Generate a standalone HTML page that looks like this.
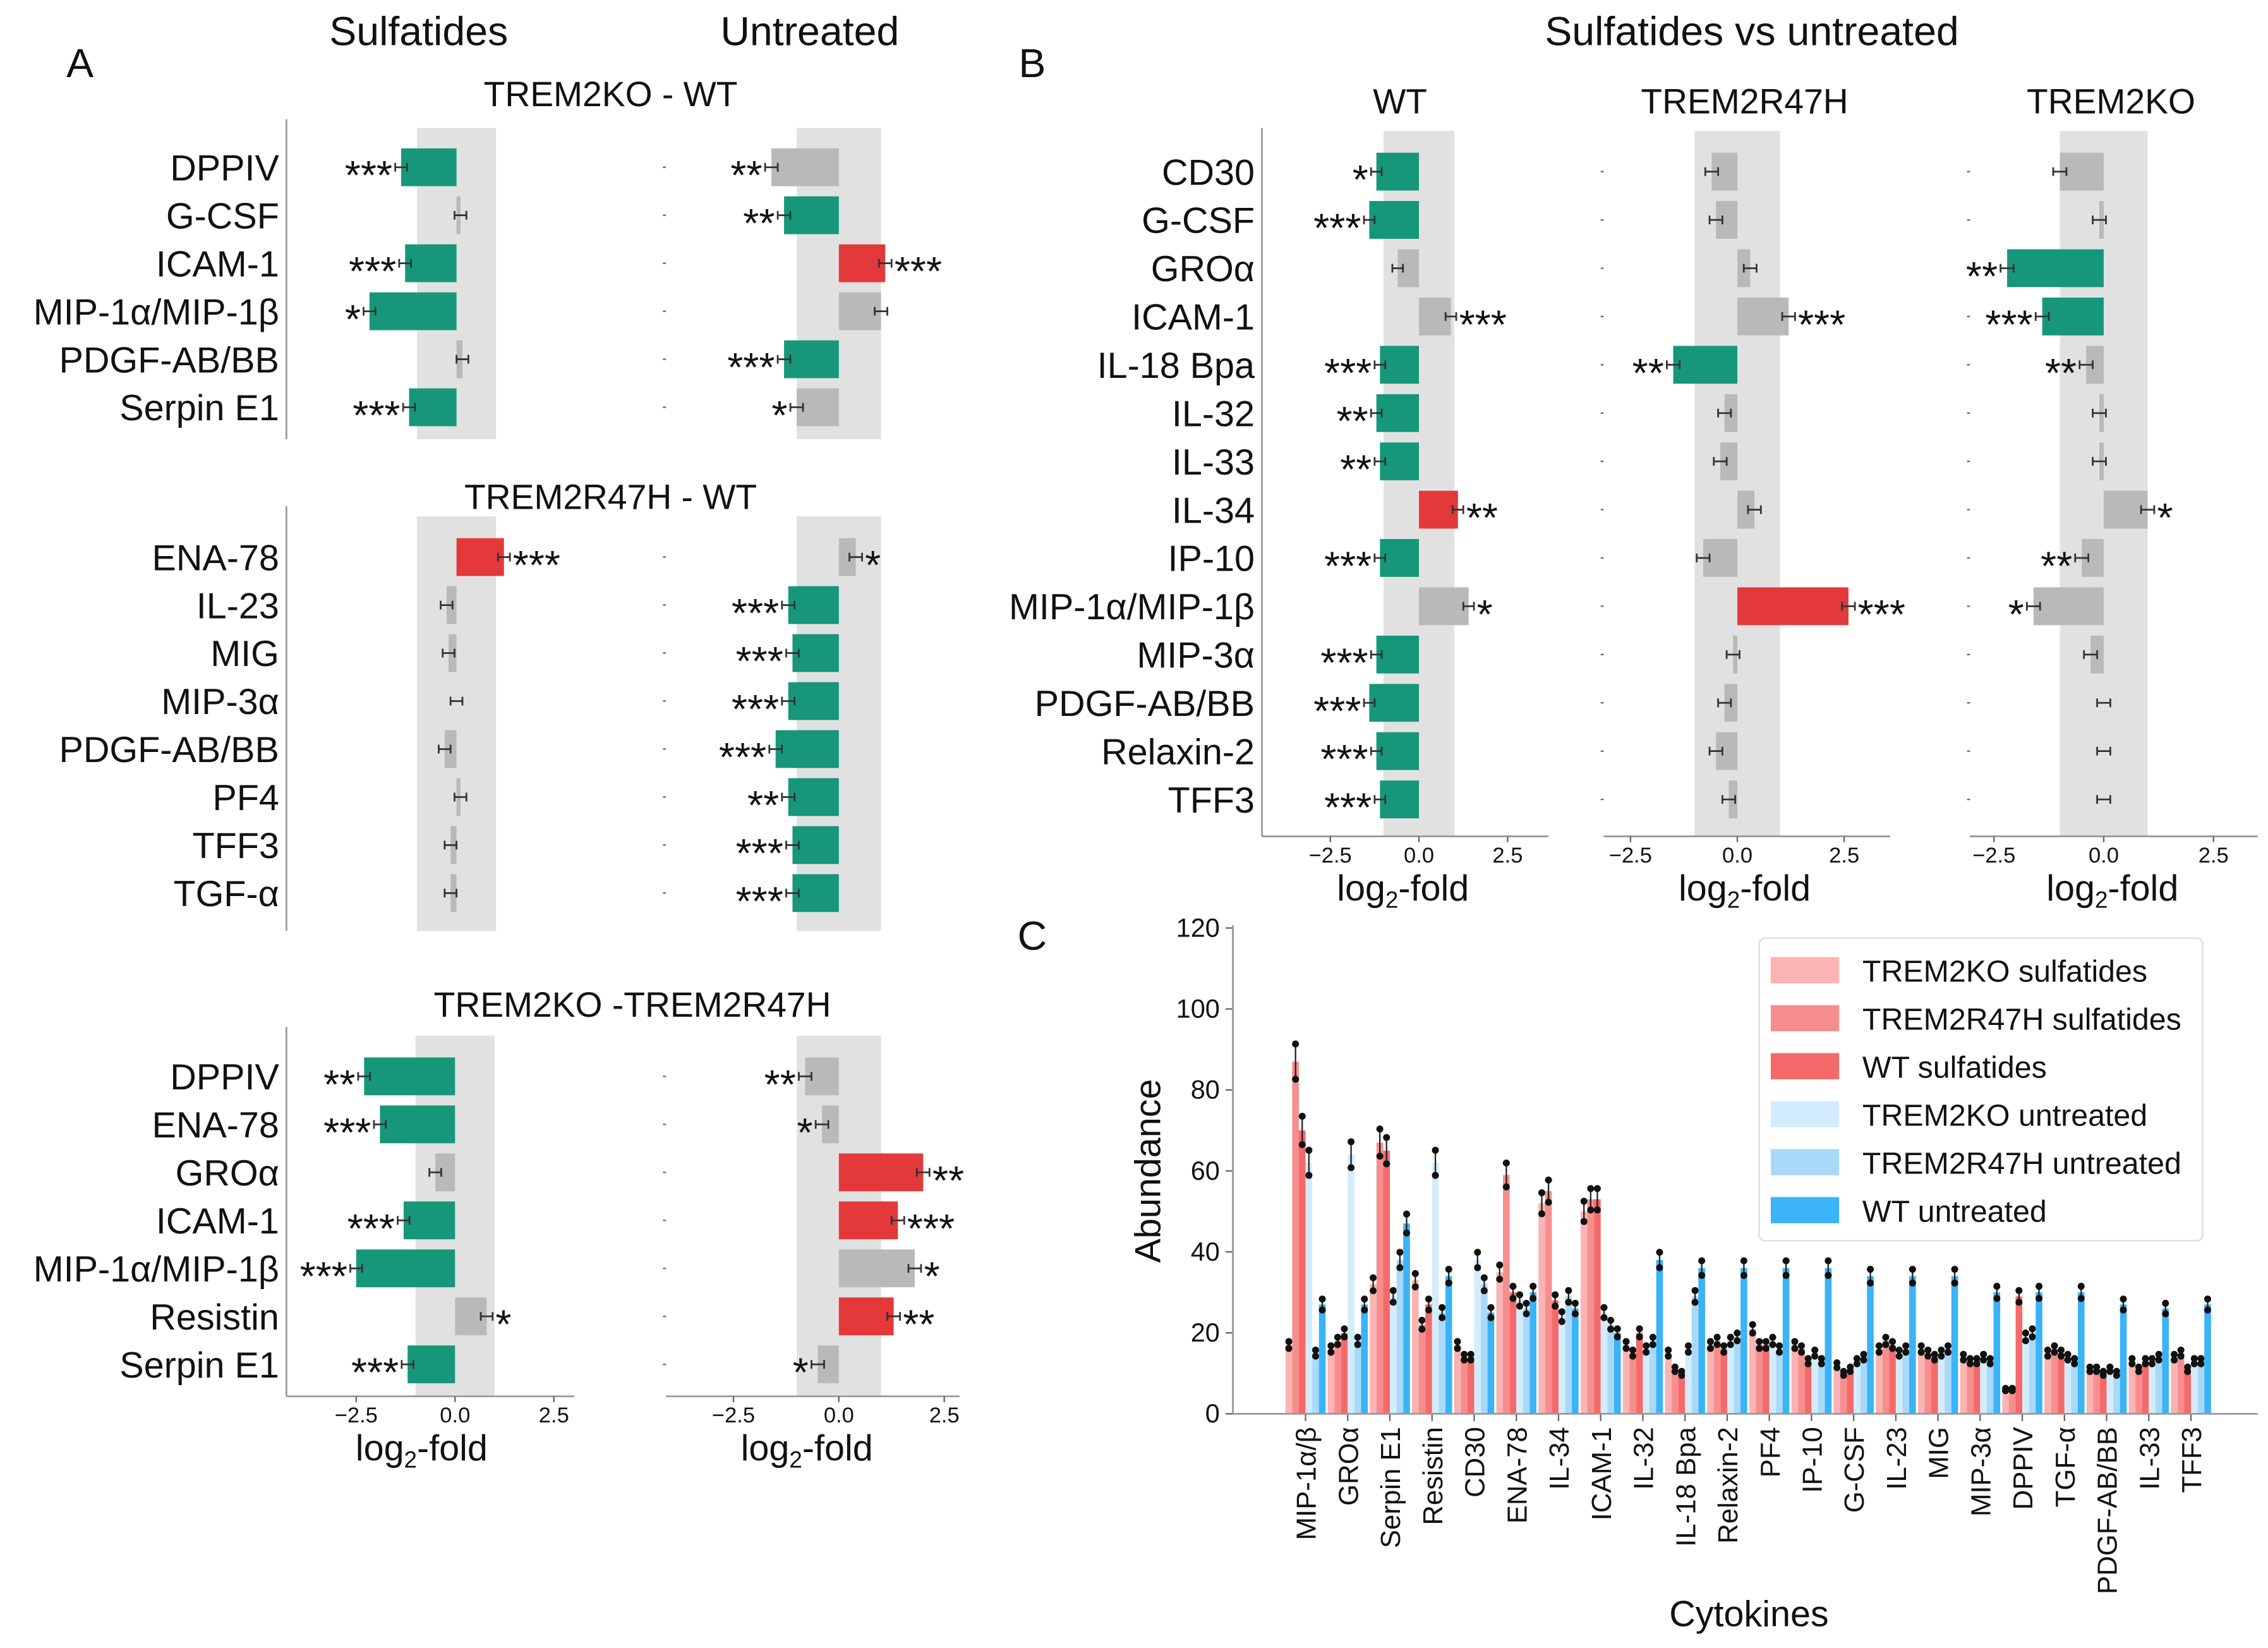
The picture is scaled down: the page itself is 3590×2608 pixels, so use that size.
<!DOCTYPE html>
<html><head><meta charset="utf-8"><style>
html,body{margin:0;padding:0;background:#fff;}
svg{display:block;font-family:"Liberation Sans","DejaVu Sans",sans-serif;}
</style></head><body>
<svg id="fig" xmlns="http://www.w3.org/2000/svg" width="3590" height="2608" viewBox="0 0 1560 1133" preserveAspectRatio="none">
<g id="root"></g>
</svg>
<script>
// ---------- Panel A data ----------
const a1Labels = ["DPPIV","G-CSF","ICAM-1","MIP-1α/MIP-1β","PDGF-AB/BB","Serpin E1"];
const a1Sulf = [-1.4,0.1,-1.3,-2.2,0.15,-1.2];
const a1SulfCol = ["g","n","g","g","n","g"];
const a1SulfStars = ["***","","***","*","","***"];
const a1Unt = [-1.6,-1.3,1.1,1.0,-1.3,-1.0];
const a1UntCol = ["n","g","r","n","g","n"];
const a1UntStars = ["**","**","***","","***","*"];

const a2Labels = ["ENA-78","IL-23","MIG","MIP-3α","PDGF-AB/BB","PF4","TFF3","TGF-α"];
const a2Sulf = [1.2,-0.25,-0.2,0.0,-0.3,0.1,-0.15,-0.15];
const a2SulfCol = ["r","n","n","n","n","n","n","n"];
const a2SulfStars = ["***","","","","","","",""];
const a2Unt = [0.4,-1.2,-1.1,-1.2,-1.5,-1.2,-1.1,-1.1];
const a2UntCol = ["n","g","g","g","g","g","g","g"];
const a2UntStars = ["*","***","***","***","***","**","***","***"];

const a3Labels = ["DPPIV","ENA-78","GROα","ICAM-1","MIP-1α/MIP-1β","Resistin","Serpin E1"];
const a3Sulf = [-2.3,-1.9,-0.5,-1.3,-2.5,0.8,-1.2];
const a3SulfCol = ["g","g","n","g","g","n","g"];
const a3SulfStars = ["**","***","","***","***","*","***"];
const a3Unt = [-0.8,-0.4,2.0,1.4,1.8,1.3,-0.5];
const a3UntCol = ["n","n","r","r","n","r","n"];
const a3UntStars = ["**","*","**","***","*","**","*"];

// ---------- Panel B data ----------
const bLabels = ["CD30","G-CSF","GROα","ICAM-1","IL-18 Bpa","IL-32","IL-33","IL-34","IP-10","MIP-1α/MIP-1β","MIP-3α","PDGF-AB/BB","Relaxin-2","TFF3"];
const bWT = [-1.2,-1.4,-0.6,0.9,-1.1,-1.2,-1.1,1.1,-1.1,1.4,-1.2,-1.4,-1.2,-1.1];
const bWTCol = ["g","g","n","n","g","g","g","r","g","n","g","g","g","g"];
const bWTStars = ["*","***","","***","***","**","**","**","***","*","***","***","***","***"];
const bR47 = [-0.6,-0.5,0.3,1.2,-1.5,-0.3,-0.4,0.4,-0.8,2.6,-0.1,-0.3,-0.5,-0.2];
const bR47Col = ["n","n","n","n","g","n","n","n","n","r","n","n","n","n"];
const bR47Stars = ["","","","***","**","","","","","***","","","",""];
const bKO = [-1.0,-0.1,-2.2,-1.4,-0.4,-0.1,-0.1,1.0,-0.5,-1.6,-0.3,0.0,0.0,0.0];
const bKOCol = ["n","n","g","g","n","n","n","n","n","n","n","n","n","n"];
const bKOStars = ["","","**","***","**","","","*","**","*","","","",""];

// ---------- Panel C data ----------
const cCats = ["MIP-1α/β","GROα","Serpin E1","Resistin","CD30","ENA-78","IL-34","ICAM-1","IL-32","IL-18 Bpa","Relaxin-2","PF4","IP-10","G-CSF","IL-23","MIG","MIP-3α","DPPIV","TGF-α","PDGF-AB/BB","IL-33","TFF3"];
const cKOsulf  = [17,16,32,33,17,35,52,50,17,15,17,21,17,12,16,16,14,6,15,11,13,14];
const cR47sulf = [87,18,67,22,14,59,55,53,15,11,18,17,16,10,18,15,13,6,16,11,11,15];
const cWTsulf  = [70,20,65,27,14,30,28,53,20,10,16,17,13,11,17,14,13,29,15,10,13,11];
const cKOunt   = [62,64,29,62,38,28,24,25,16,16,18,18,15,13,15,15,14,19,14,11,13,13];
const cR47unt  = [15,18,38,25,32,26,29,22,18,29,19,16,13,14,16,16,13,20,13,10,14,13];
const cWTunt   = [27,27,47,34,25,30,26,20,38,36,36,36,36,34,34,34,30,30,30,27,26,27];
const cTicks = [0,20,40,60,80,100,120];
const cSeriesNames = ["TREM2KO sulfatides","TREM2R47H sulfatides","WT sulfatides","TREM2KO untreated","TREM2R47H untreated","WT untreated"];

const NS = "http://www.w3.org/2000/svg";
const root = document.getElementById('root');
const COL = {g:"#16977a", r:"#e4393b", n:"#b9b9b9"};
function el(tag, attrs, name, inter){
  const e = document.createElementNS(NS, tag);
  for (const k in attrs) e.setAttribute(k, attrs[k]);
  
  
  root.appendChild(e);
  return e;
}
function txt(x,y,s,size,name,anchor,extra){
  const t = el('text', Object.assign({x:x,y:y,'font-size':size,'text-anchor':anchor||'middle',fill:'#111'}, extra||{}), name, false);
  t.textContent = s;
  return t;
}

function hplot(o){
  const sx = v => o.zero + v*o.scale;
  const yRow = i => o.y0 + i*o.dy;
  el('rect',{x:sx(-1),y:o.bandTop,width:sx(1)-sx(-1),height:o.bandBot-o.bandTop,fill:'#e1e1e1'},o.id+'-band',false);
  if (o.spine) el('line',{x1:o.spineX,y1:o.spineTop,x2:o.spineX,y2:o.spineBot,stroke:'#999','stroke-width':1.2},o.id+'-y-axis',false);
  o.vals.forEach((v,i)=>{
    const y = yRow(i);
    if (o.labels) txt(o.spineX-5,y+9,o.labels[i],25,o.id+'-label','end');
    else el('line',{x1:o.spineX-2,y1:y,x2:o.spineX,y2:y,stroke:'#666','stroke-width':1},o.id+'-tick',false);
    const x0 = sx(0), x1 = sx(v);
    el('rect',{x:Math.min(x0,x1),y:y-13,width:Math.abs(x1-x0),height:26,fill:COL[o.cols[i]]},o.id+'-bar',false);
    const err = 0.15*o.scale;
    const dir = v<0?-1:1;
    el('line',{x1:x1-err,y1:y,x2:x1+err,y2:y,stroke:'#333','stroke-width':1.2},o.id+'-errorbar',false);
    el('line',{x1:x1-err,y1:y-3,x2:x1-err,y2:y+3,stroke:'#333','stroke-width':1.2},o.id+'-errcap',false);
    el('line',{x1:x1+err,y1:y-3,x2:x1+err,y2:y+3,stroke:'#333','stroke-width':1.2},o.id+'-errcap',false);
    if (o.stars[i]) {
      const sxp = dir<0 ? Math.min(x1-err, x0) - 2 : Math.max(x1+err, x0) + 2;
      txt(sxp,y+15,o.stars[i],28,o.id+'-significance',dir<0?'end':'start');
    }
  });
  if (o.axis) {
    el('line',{x1:o.spineX,y1:o.axisY,x2:o.axisEnd,y2:o.axisY,stroke:'#999','stroke-width':1.2},o.id+'-x-axis',false);
    [-2.5,0,2.5].forEach(t=>{
      el('line',{x1:sx(t),y1:o.axisY,x2:sx(t),y2:o.axisY+4,stroke:'#666'},o.id+'-x-tick',false);
      txt(sx(t),o.axisY+18,t.toFixed(1).replace('-','−'),15,o.id+'-x-tick-label');
    });
    const t = txt(o.xtitleX,o.axisY+44,'log',25,o.id+'-x-title');
    const s = document.createElementNS(NS,'tspan'); s.setAttribute('font-size','16'); s.setAttribute('dy','5'); s.textContent='2';
    const s2 = document.createElementNS(NS,'tspan'); s2.setAttribute('dy','-5'); s2.textContent='-fold';
    t.appendChild(s); t.appendChild(s2);
  }
}

// Panel A
txt(55,53,'A',28,'panel-a-letter');
txt(288,31,'Sulfatides',28,'panel-a-column-title-sulfatides');
txt(557,31,'Untreated',28,'panel-a-column-title-untreated');
txt(420,73,'TREM2KO - WT',24,'subplot-title-trem2ko-wt');
txt(420,350,'TREM2R47H - WT',24,'subplot-title-trem2r47h-wt');
txt(435,699,'TREM2KO -TREM2R47H',24,'subplot-title-trem2ko-trem2r47h');

hplot({id:'a1-sulf',zero:314,scale:27.2,y0:115,dy:33,bandTop:88,bandBot:302,spine:true,spineX:197,spineTop:82,spineBot:302,labels:a1Labels,vals:a1Sulf,cols:a1SulfCol,stars:a1SulfStars});
hplot({id:'a1-unt',zero:577,scale:29,y0:115,dy:33,bandTop:88,bandBot:302,spine:false,spineX:458,vals:a1Unt,cols:a1UntCol,stars:a1UntStars});
hplot({id:'a2-sulf',zero:314,scale:27.2,y0:383,dy:33,bandTop:355,bandBot:640,spine:true,spineX:197,spineTop:348,spineBot:640,labels:a2Labels,vals:a2Sulf,cols:a2SulfCol,stars:a2SulfStars});
hplot({id:'a2-unt',zero:577,scale:29,y0:383,dy:33,bandTop:355,bandBot:640,spine:false,spineX:458,vals:a2Unt,cols:a2UntCol,stars:a2UntStars});
hplot({id:'a3-sulf',zero:313,scale:27.2,y0:740,dy:33,bandTop:712,bandBot:960,spine:true,spineX:197,spineTop:706,spineBot:960,labels:a3Labels,vals:a3Sulf,cols:a3SulfCol,stars:a3SulfStars,axis:true,axisY:960,axisEnd:395,xtitleX:290});
hplot({id:'a3-unt',zero:577,scale:29,y0:740,dy:33,bandTop:712,bandBot:960,spine:false,spineX:458,vals:a3Unt,cols:a3UntCol,stars:a3UntStars,axis:true,axisY:960,axisEnd:660,xtitleX:555});

// Panel B
txt(710,53,'B',28,'panel-b-letter');
txt(1205,31,'Sulfatides vs untreated',28,'panel-b-title');
txt(963,78,'WT',24,'panel-b-column-title-wt');
txt(1200,78,'TREM2R47H',24,'panel-b-column-title-r47h');
txt(1452,78,'TREM2KO',24,'panel-b-column-title-ko');
hplot({id:'b-wt',zero:976,scale:24.4,y0:118,dy:33.2,bandTop:90,bandBot:575,spine:true,spineX:868,spineTop:88,spineBot:575,labels:bLabels,vals:bWT,cols:bWTCol,stars:bWTStars,axis:true,axisY:575,axisEnd:1065,xtitleX:965});
hplot({id:'b-r47h',zero:1195,scale:29.4,y0:118,dy:33.2,bandTop:90,bandBot:575,spine:false,spineX:1103,vals:bR47,cols:bR47Col,stars:bR47Stars,axis:true,axisY:575,axisEnd:1300,xtitleX:1200});
hplot({id:'b-ko',zero:1447,scale:30.2,y0:118,dy:33.2,bandTop:90,bandBot:575,spine:false,spineX:1355,vals:bKO,cols:bKOCol,stars:bKOStars,axis:true,axisY:575,axisEnd:1553,xtitleX:1453});

// Panel C
txt(710,653,'C',28,'panel-c-letter');
const cx0 = 848, cx1 = 1553, cy0 = 972, cyTop = 638;
const cy = v => cy0 - v*(cy0-cyTop)/120;
const cGroupX = i => 898 + i*29;
const cSeries = [cKOsulf,cR47sulf,cWTsulf,cKOunt,cR47unt,cWTunt];
const cColors = ["#fbb3b3","#f78e8e","#f46a6a","#d3ecfb","#a9d9f8","#3ab3f7"];
const bw = 4.6;
cTicks.forEach(t=>{
  el('line',{x1:cx0-5,y1:cy(t),x2:cx0,y2:cy(t),stroke:'#666'},'c-y-tick',false);
  txt(cx0-9,cy(t)+6,String(t),18,'c-y-tick-label','end');
});
cCats.forEach((c,i)=>{
  const gx = cGroupX(i);
  cSeries.forEach((s,k)=>{
    const x = gx - 3*bw + k*bw;
    const v = s[i];
    el('rect',{x:x,y:cy(v),width:bw,height:cy0-cy(v),fill:cColors[k]},'c-bar',false);
    el('line',{x1:x+bw/2,y1:cy(v*1.06),x2:x+bw/2,y2:cy(v*0.94),stroke:'#222','stroke-width':1},'c-errorbar',false);
    el('circle',{cx:x+bw/2,cy:cy(v*1.05),r:2.4,fill:'#111'},'c-point',false);
    el('circle',{cx:x+bw/2,cy:cy(v*0.95),r:2.4,fill:'#111'},'c-point',false);
  });
  el('line',{x1:gx,y1:cy0,x2:gx,y2:cy0+5,stroke:'#666'},'c-x-tick',false);
  txt(gx+7,cy0+9,c,19,'c-x-tick-label','end',{transform:`rotate(-90 ${gx+7} ${cy0+9})`});
});
el('line',{x1:cx0,y1:cyTop-2,x2:cx0,y2:cy0,stroke:'#999','stroke-width':1.2},'c-y-axis',false);
el('line',{x1:cx0,y1:cy0,x2:cx1,y2:cy0,stroke:'#999','stroke-width':1.2},'c-x-axis',false);
txt(798,805,'Abundance',25,'c-y-axis-title','middle',{transform:'rotate(-90 798 805)'});
txt(1203,1118,'Cytokines',25,'c-x-axis-title');
el('rect',{x:1210,y:645,width:305,height:208,fill:'#fff',stroke:'#ddd','stroke-width':1,rx:4},'c-legend',false);
cSeriesNames.forEach((n,k)=>{
  const y = 667 + k*33;
  el('rect',{x:1218,y:y-9,width:47,height:18,fill:cColors[k]},'c-legend-swatch',false);
  txt(1281,y+8,n,21,'c-legend-entry','start');
});
</script>
</body></html>
